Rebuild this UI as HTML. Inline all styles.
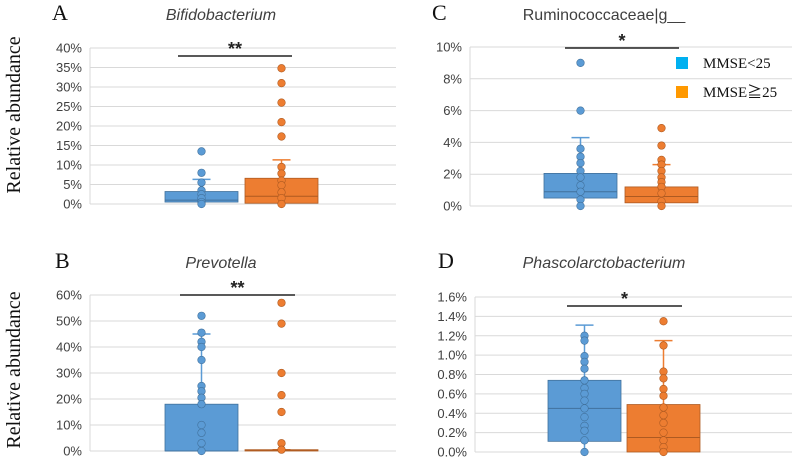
<!DOCTYPE html>
<html><head><meta charset="utf-8"><style>
body{margin:0;background:#fff;width:792px;height:459px;overflow:hidden}
svg{display:block}
</style></head><body>
<svg id="s" width="792" height="459" xmlns="http://www.w3.org/2000/svg">
<text x="20" y="115" transform="rotate(-90 20 115)" text-anchor="middle" font-family="Liberation Serif,serif" font-size="20" fill="#111">Relative abundance</text>
<text x="20" y="370" transform="rotate(-90 20 370)" text-anchor="middle" font-family="Liberation Serif,serif" font-size="20" fill="#111">Relative abundance</text>
<g>
<rect x="676" y="57" width="12" height="12" fill="#00b0f0"/>
<text x="703" y="68" font-family="Liberation Serif,serif" font-size="15" fill="#111">MMSE&lt;25</text>
<rect x="676" y="86" width="12" height="12" fill="#ff9900"/>
<text x="703" y="97" font-family="Liberation Serif,'Noto Sans CJK JP',serif" font-size="15" fill="#111">MMSE≧25</text>
</g>
</svg>
<script>
// Panel data (values in %)
const panelLetters = ["A","C","B","D"];
const panelTitles = ["Bifidobacterium","Ruminococcaceae|g__","Prevotella","Phascolarctobacterium"];
const panelStars = ["**","*","**","*"];
const yMax = [40,10,60,1.6];
const yStep = [5,2,10,0.2];
const tickDecimals = [0,0,0,1];
// box stats per panel: [q1, median, q3, whiskerLow, whiskerHigh]
const blueBox = [[0.5,1,3.2,0,6.3],[0.5,0.9,2.05,0,4.3],[0,0,18,0,45],[0.11,0.45,0.74,0,1.31]];
const orangeBox = [[0.2,2,6.6,0,11.3],[0.2,0.6,1.2,0,2.6],[0,0.3,0.5,0,0.5],[0,0.15,0.49,0,1.15]];
const bluePoints = [[13.5,8,5.5,3.5,2.5,1.5,0.5,0],[9,6,3.6,3.1,2.7,2.2,1.8,1.3,0.9,0.4,0],[52,45.5,42,40,35,25,23,20.5,18,10,7,3,0],[1.2,1.15,0.99,0.93,0.86,0.74,0.66,0.6,0.53,0.45,0.36,0.27,0.22,0.12,0]];
const orangePoints = [[34.8,31,26,21,17.3,9.5,7.8,6,4.8,3,1.5,0],[4.9,3.8,2.9,2.6,2.2,1.8,1.5,1.2,0.8,0.3,0],[57,49,30,21.5,15,3,0.5],[1.35,1.1,0.83,0.76,0.65,0.58,0.46,0.38,0.3,0.2,0.12,0.05,0]];
// layout (not data)
const L=[{l:90,r:396,t:48,b:204,bx:165,ox:245,sig:[178,292,56],lx:52,ly:20,tx:221,ty:20,it:true},
{l:470,r:792,t:47,b:206,bx:544,ox:625,sig:[565,679,48],lx:432,ly:20,tx:604,ty:20,it:false},
{l:90,r:396,t:295,b:451,bx:165,ox:245,sig:[180,295,295],lx:55,ly:268,tx:221,ty:268,it:true},
{l:475,r:792,t:297,b:452,bx:548,ox:627,sig:[567,682,306],lx:438,ly:268,tx:604,ty:268,it:true}];
const NS="http://www.w3.org/2000/svg",svg=document.getElementById('s');
function mk(t,a,p){const e=document.createElementNS(NS,t);for(const k in a)e.setAttribute(k,a[k]);(p||svg).appendChild(e);return e;}
L.forEach((g,i)=>{
 const grp=mk('g',{});
 
 
 const y=v=>g.b-(v/yMax[i])*(g.b-g.t);
 const n=Math.round(yMax[i]/yStep[i]);
 for(let k=0;k<=n;k++){const v=k*yStep[i],yy=y(v);
  const gl=mk('line',{x1:g.l,x2:g.r,y1:yy,y2:yy,stroke:'#d9d9d9','stroke-width':1},grp);
  
  
  const tl=mk('text',{x:g.l-8,y:yy+4.5,'text-anchor':'end','font-family':'Liberation Sans,sans-serif','font-size':13,fill:'#404040'},grp);
  tl.textContent=v.toFixed(tickDecimals[i])+'%';
  
  }
 const ax=mk('line',{x1:g.l,x2:g.l,y1:g.t,y2:g.b,stroke:'#d9d9d9'},grp);
 
 
 const lt=mk('text',{x:g.lx,y:g.ly,'font-family':'Liberation Serif,serif','font-size':22,fill:'#111'},grp);
 lt.textContent=panelLetters[i];
 
 
 const tt=mk('text',{x:g.tx,y:g.ty,'text-anchor':'middle','font-family':'Liberation Sans,sans-serif','font-size':16,'font-style':g.it?'italic':'normal',fill:'#404040'},grp);
 tt.textContent=panelTitles[i];
 
 
 const sl=mk('line',{x1:g.sig[0],x2:g.sig[1],y1:g.sig[2],y2:g.sig[2],stroke:'#222','stroke-width':1.5},grp);
 
 
 const st=mk('text',{x:(g.sig[0]+g.sig[1])/2,y:g.sig[2]-1,'text-anchor':'middle','font-family':'Liberation Sans,sans-serif','font-size':18,'font-weight':'bold',fill:'#222'},grp);
 st.textContent=panelStars[i];
 
 
 [[blueBox[i],bluePoints[i],g.bx,'#5b9bd5','#41719c','blue'],[orangeBox[i],orangePoints[i],g.ox,'#ed7d31','#ae5a21','orange']].forEach(([b,pts,x0,c,dc,nm])=>{
  const w=73,cx=x0+w/2;
  const wl=mk('line',{x1:cx,x2:cx,y1:y(b[4]),y2:y(b[3]),stroke:c,'stroke-width':1.5},grp);
  
  
  const cap=mk('line',{x1:cx-9,x2:cx+9,y1:y(b[4]),y2:y(b[4]),stroke:c,'stroke-width':1.5},grp);
  
  
  const bx=mk('rect',{x:x0,y:y(b[2]),width:w,height:Math.max(1,y(b[0])-y(b[2])),fill:c,stroke:dc,'stroke-width':0.8},grp);
  
  
  const md=mk('line',{x1:x0,x2:x0+w,y1:y(b[1]),y2:y(b[1]),stroke:dc,'stroke-width':1},grp);
  
  
  pts.forEach(v=>{
   const p=mk('circle',{cx:cx,cy:y(v),r:3.8,fill:c,stroke:dc,'stroke-width':0.6},grp);
   
   });
 });
});
</script>
</body></html>
